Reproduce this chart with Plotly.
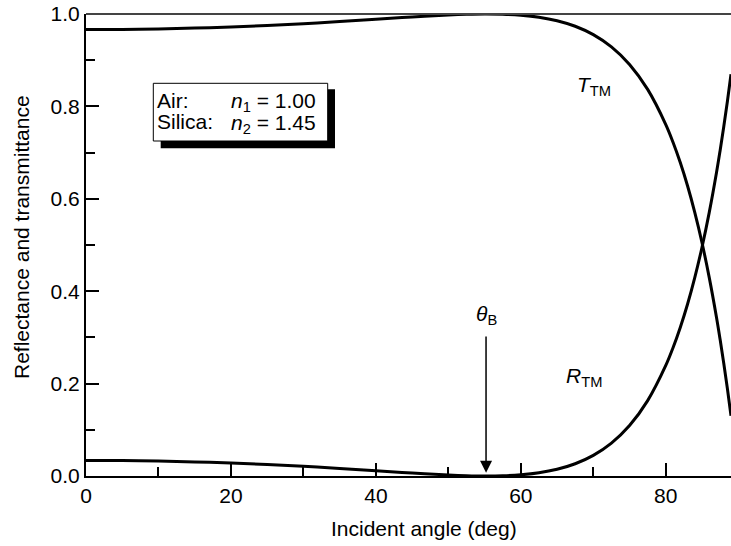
import plotly.graph_objects as go

# Data
angle_deg = [0, 5, 10, 15, 20, 25, 30, 35, 40, 45, 50, 52.5, 55, 57.5, 60, 62.5, 65, 67.5,
             70, 72.5, 75, 77.5, 80, 81, 82, 83, 84, 85, 86, 87, 87.5, 88, 88.5, 89]
R_TM = [0.0337, 0.0334, 0.0323, 0.0305, 0.0280, 0.0248, 0.0209, 0.0164, 0.0114, 0.0064,
        0.0022, 0.0007, 0.0000, 0.0005, 0.0026, 0.0069, 0.0145, 0.0265,
        0.0446, 0.0712, 0.1092, 0.1632, 0.2393, 0.2776, 0.3216, 0.3718, 0.4294, 0.4952,
        0.5706, 0.6569, 0.7047, 0.7559, 0.8107, 0.8695]
T_TM = [0.9663, 0.9666, 0.9677, 0.9695, 0.9720, 0.9752, 0.9791, 0.9836, 0.9886, 0.9936,
        0.9978, 0.9993, 1.0000, 0.9995, 0.9974, 0.9931, 0.9855, 0.9735,
        0.9554, 0.9288, 0.8908, 0.8368, 0.7607, 0.7224, 0.6784, 0.6282, 0.5706, 0.5048,
        0.4294, 0.3431, 0.2953, 0.2441, 0.1893, 0.1305]
theta_B = 55.2
x_ticks = [0, 20, 40, 60, 80]
y_ticks = [0.0, 0.2, 0.4, 0.6, 0.8, 1.0]
y_tick_text = ["0.0", "0.2", "0.4", "0.6", "0.8", "1.0"]

FONT = "Liberation Sans, Arial, Helvetica, sans-serif"
FS = 21
L, T, W, H = 86, 14, 645, 462


def px(xp):
    return (xp - L) / W


def py(yp):
    return (T + H - yp) / H


fig = go.Figure()
fig.add_trace(go.Scatter(x=angle_deg, y=R_TM, mode="lines", line=dict(color="black", width=3, shape="spline"),
                         showlegend=False, hoverinfo="skip"))
fig.add_trace(go.Scatter(x=angle_deg, y=T_TM, mode="lines", line=dict(color="black", width=3, shape="spline"),
                         showlegend=False, hoverinfo="skip"))

fig.update_layout(
    width=731, height=546, autosize=False,
    margin=dict(l=L, r=0, t=T, b=546 - T - H, pad=0),
    plot_bgcolor="white", paper_bgcolor="white",
    font=dict(family=FONT, size=FS, color="black"),
    showlegend=False,
)
fig.update_xaxes(range=[0, 89], tickvals=x_ticks, ticktext=[str(v) for v in x_ticks],
                 ticks="inside", ticklen=13, tickwidth=1.5, tickcolor="black",
                 minor=dict(dtick=10, tick0=0, ticks="inside", ticklen=9, tickwidth=1.5, tickcolor="black"),
                 showline=True, linecolor="black", linewidth=2, showgrid=False, zeroline=False,
                 tickfont=dict(size=FS))
fig.update_yaxes(range=[0, 1], tickvals=y_ticks, ticktext=y_tick_text,
                 ticks="inside", ticklen=13, tickwidth=1.5, tickcolor="black",
                 minor=dict(dtick=0.1, tick0=0, ticks="inside", ticklen=9, tickwidth=1.5, tickcolor="black"),
                 showline=True, linecolor="black", linewidth=2, showgrid=False, zeroline=False,
                 tickfont=dict(size=FS))

# top frame line
fig.add_shape(type="line", xref="paper", yref="paper", x0=0, x1=1, y0=1, y1=1,
              line=dict(color="#444444", width=2))

# info box with shadow
fig.add_shape(type="rect", xref="paper", yref="paper", x0=px(160.7), x1=px(335), y0=py(148.3), y1=py(89.3),
              fillcolor="black", line=dict(width=0))
fig.add_shape(type="rect", xref="paper", yref="paper", x0=px(153.3), x1=px(327.7), y0=py(141), y1=py(83.3),
              fillcolor="white", line=dict(color="black", width=1))

ann = []
ann.append(dict(text="Air:", x=px(155), y=py(100), xanchor="left", yanchor="middle"))
ann.append(dict(text="Silica:", x=px(155), y=py(122), xanchor="left", yanchor="middle"))
ann.append(dict(text="<i>n</i><sub>1</sub> = 1.00", x=px(229), y=py(102), xanchor="left", yanchor="middle"))
ann.append(dict(text="<i>n</i><sub>2</sub> = 1.45", x=px(229), y=py(124), xanchor="left", yanchor="middle"))
for a in ann:
    fig.add_annotation(xref="paper", yref="paper", showarrow=False, font=dict(size=FS, family=FONT), **a)

fig.add_annotation(text="<i>T</i><sub>TM</sub>", x=67.5, y=0.845, xref="x", yref="y", xanchor="left",
                   yanchor="middle", showarrow=False, font=dict(size=FS))
fig.add_annotation(text="<i>R</i><sub>TM</sub>", x=66.0, y=0.214, xref="x", yref="y", xanchor="left",
                   yanchor="middle", showarrow=False, font=dict(size=FS))
fig.add_annotation(text="<i>θ</i><sub>B</sub>", x=theta_B, y=0.348, xref="x", yref="y", xanchor="center",
                   yanchor="middle", showarrow=False, font=dict(size=FS))
fig.add_annotation(text="", x=theta_B, y=0.007, ax=theta_B, ay=0.305, xref="x", yref="y", axref="x", ayref="y",
                   showarrow=True, arrowhead=2, arrowsize=1.6, arrowwidth=1.5, arrowcolor="black", standoff=0)

# axis titles
fig.add_annotation(text="Incident angle (deg)", x=px(424), y=py(528), xref="paper", yref="paper",
                   showarrow=False, xanchor="center", yanchor="middle", font=dict(size=FS))
fig.add_annotation(text="Reflectance and transmittance", x=px(21), y=py(237), xref="paper", yref="paper",
                   showarrow=False, xanchor="center", yanchor="middle", textangle=-90, font=dict(size=FS))

fig.write_html("out.html", config={"displayModeBar": False},
               post_script="document.body.style.margin='0';document.body.style.overflow='hidden';")
